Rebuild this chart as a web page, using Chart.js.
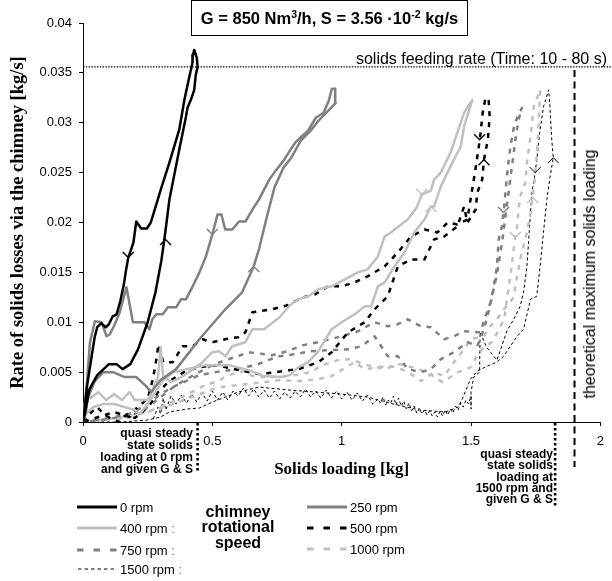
<!DOCTYPE html>
<html><head><meta charset="utf-8">
<script src="https://cdn.jsdelivr.net/npm/chart.js@4"></script>
<style>
body{margin:0;background:#fff;}
#wrap{position:relative;width:612px;height:581px;overflow:hidden;font-family:"Liberation Sans",Arial,sans-serif;color:#000;background:#fff;}
#c{position:absolute;left:0;top:0;}
.abs{position:absolute;white-space:nowrap;}
.lg{position:absolute;font-size:13px;line-height:13px;white-space:nowrap;}
.col{color:#777;}
.ann{position:absolute;font-weight:bold;font-size:12px;text-align:right;white-space:nowrap;}
sup{line-height:0;}
</style></head>
<body><div id="wrap">
<canvas id="c" width="612" height="581"></canvas>
<div class="abs" style="left:191px;top:0px;width:277px;height:36px;box-sizing:border-box;border:1px solid #000;"></div>
<div class="abs" style="left:191px;top:10px;width:277px;text-align:center;font-weight:bold;font-size:16.5px;line-height:16.5px;">G = 850 Nm<sup style="font-size:10.5px;vertical-align:6px;">3</sup>/h, S = 3.56 ·10<sup style="font-size:10.5px;vertical-align:6px;">-2</sup> kg/s</div>
<div class="abs" style="right:5px;top:51px;font-size:16px;line-height:16px;">solids feeding rate (Time: 10 - 80 s)</div>
<div class="abs" style="left:590px;top:274px;font-size:16px;line-height:16px;transform:translate(-50%,-50%) rotate(-90deg);">theoretical maximum solids loading</div>
<div class="ann" style="right:419px;top:427px;line-height:12px;">quasi steady<br>state solids<br>loading at 0 rpm<br>and given G &amp; S</div>
<div class="ann" style="right:59px;top:449px;line-height:11.3px;">quasi steady<br>state solids<br>loading at<br>1500 rpm and<br>given G &amp; S</div>

<svg class="abs" style="left:0;top:0" width="612" height="581">
<line x1="77" y1="507" x2="117" y2="507" stroke="#000" stroke-width="3"/>
<line x1="77" y1="528" x2="117" y2="528" stroke="#c0c0c0" stroke-width="3"/>
<line x1="77" y1="550" x2="117" y2="550" stroke="#808080" stroke-width="3" stroke-dasharray="6.5 10"/>
<line x1="78" y1="569" x2="117" y2="569" stroke="#000" stroke-width="1" stroke-dasharray="3.5 3"/>
<line x1="307" y1="507" x2="347" y2="507" stroke="#808080" stroke-width="3"/>
<line x1="307" y1="528" x2="347" y2="528" stroke="#000" stroke-width="3" stroke-dasharray="6.5 10"/>
<line x1="307" y1="549" x2="347" y2="549" stroke="#c0c0c0" stroke-width="3" stroke-dasharray="6.5 10"/>
</svg>
<div class="lg" style="left:120px;top:500.6px;">0 rpm</div>
<div class="lg" style="left:120px;top:521.6px;">400 rpm<span class="col"> :</span></div>
<div class="lg" style="left:120px;top:543.6px;">750 rpm<span class="col"> :</span></div>
<div class="lg" style="left:120px;top:562.6px;">1500 rpm<span class="col"> :</span></div>
<div class="lg" style="left:350px;top:500.6px;">250 rpm</div>
<div class="lg" style="left:350px;top:521.6px;">500 rpm</div>
<div class="lg" style="left:350px;top:542.6px;">1000 rpm</div>
<div class="abs" style="left:178px;top:503.5px;width:120px;text-align:center;font-weight:bold;font-size:16px;line-height:15.5px;">chimney<br>rotational<br>speed</div>
</div>
<script>
// ---- data (solids loading [kg], rate of solids losses [kg/s]) ----
const rpm0 = [[0,0],[0.008,0.001],[0.025,0.0033],[0.055,0.0047],[0.1,0.0058],[0.13,0.0058],[0.153,0.0053],[0.183,0.0058],[0.213,0.0073],[0.25,0.01],[0.28,0.013],[0.303,0.0162],[0.318,0.019],[0.334,0.0223],[0.353,0.0248],[0.372,0.0273],[0.398,0.0306],[0.404,0.0315],[0.417,0.0323],[0.43,0.0333],[0.436,0.0348],[0.443,0.0356],[0.44,0.0365],[0.43,0.0373],
 [0.425,0.0368],[0.423,0.036],[0.411,0.0346],[0.392,0.0323],[0.372,0.0293],[0.334,0.026],[0.303,0.0235],[0.289,0.0223],[0.262,0.02],[0.247,0.0194],[0.225,0.0194],[0.206,0.0201],[0.195,0.018],[0.185,0.0172],[0.175,0.0165],[0.165,0.015],[0.158,0.0138],[0.145,0.0122],[0.13,0.0108],[0.115,0.0106],[0.1,0.0098],[0.088,0.0095],[0.07,0.0099],[0.055,0.0095],[0.045,0.0085],[0.03,0.006],[0.015,0.0035],[0.005,0.001],[0,0]];
const rpm250 = [[0,0],[0.008,0.0006],[0.02,0.0025],[0.046,0.0041],[0.078,0.005],[0.116,0.005],[0.161,0.0045],[0.206,0.0045],[0.244,0.0036],[0.264,0.003],[0.3,0.0042],[0.36,0.0053],[0.45,0.0083],[0.55,0.0113],[0.615,0.013],[0.66,0.0156],[0.68,0.0173],[0.71,0.0205],[0.74,0.0235],[0.775,0.0255],[0.805,0.0265],[0.842,0.0282],[0.88,0.0292],[0.91,0.0302],[0.94,0.031],[0.977,0.032],[0.975,0.0334],
 [0.962,0.0334],[0.95,0.0322],[0.93,0.031],[0.9,0.0305],[0.87,0.0292],[0.84,0.0285],[0.82,0.028],[0.8,0.0272],[0.775,0.0262],[0.745,0.0252],[0.72,0.0243],[0.7,0.0233],[0.68,0.0223],[0.655,0.0213],[0.628,0.0201],[0.603,0.0201],[0.577,0.0193],[0.55,0.0193],[0.535,0.0208],[0.52,0.0208],[0.5,0.0188],[0.475,0.0166],[0.45,0.015],[0.424,0.0136],[0.398,0.0123],[0.379,0.0123],[0.36,0.0115],[0.328,0.0115],[0.308,0.0108],[0.283,0.0108],[0.268,0.0103],[0.257,0.0093],[0.238,0.01],[0.193,0.01],[0.168,0.0135],[0.142,0.011],[0.123,0.0098],[0.104,0.0088],[0.091,0.0086],[0.072,0.01],[0.046,0.0101],[0.027,0.008],[0.014,0.0036],[0.004,0.001],[0,0]];
const rpm400 = [[0,0],[0.01,0.0008],[0.04,0.0015],[0.08,0.0018],[0.12,0.0018],[0.16,0.0015],[0.2,0.0012],[0.22,0.0008],[0.25,0.0018],[0.28,0.003],[0.31,0.0042],[0.35,0.005],[0.4,0.0053],[0.475,0.0057],[0.565,0.0057],[0.64,0.0052],[0.7,0.0046],[0.76,0.0045],[0.8,0.0047],[0.833,0.0055],[0.871,0.006],[0.91,0.0071],[0.961,0.0093],[1.0,0.01],[1.05,0.0108],[1.09,0.0116],[1.114,0.0116],[1.14,0.0136],[1.166,0.014],[1.204,0.0156],[1.243,0.017],[1.28,0.019],[1.32,0.0203],[1.345,0.0216],[1.357,0.0216],[1.383,0.0236],[1.42,0.0256],[1.46,0.0276],[1.473,0.0296],[1.505,0.0323],
 [1.473,0.031],[1.447,0.029],[1.421,0.027],[1.383,0.025],[1.357,0.0243],[1.345,0.0232],[1.31,0.0228],[1.29,0.0215],[1.255,0.0203],[1.22,0.0196],[1.19,0.019],[1.166,0.0186],[1.14,0.0166],[1.1,0.0153],[1.063,0.015],[1.012,0.0143],[0.96,0.0136],[0.91,0.0133],[0.871,0.0126],[0.833,0.0123],[0.8,0.0117],[0.76,0.0105],[0.7,0.0093],[0.654,0.0093],[0.628,0.008],[0.577,0.0076],[0.551,0.0066],[0.526,0.0071],[0.5,0.007],[0.462,0.006],[0.42,0.0052],[0.38,0.0045],[0.34,0.004],[0.31,0.0045],[0.3,0.0075],[0.29,0.0045],[0.27,0.0032],[0.25,0.0022],[0.2,0.0022],[0.18,0.003],[0.15,0.0022],[0.12,0.0028],[0.09,0.0022],[0.06,0.003],[0.03,0.0024],[0.015,0.003],[0.005,0.0015],[0,0]];
const rpm500 = [[0,0],[0.025,0.0008],[0.055,0.0015],[0.08,0.0008],[0.11,0.0003],[0.14,0],[0.17,0.0008],[0.2,0.0004],[0.23,0.001],[0.26,0.0018],[0.29,0.003],[0.334,0.0041],[0.39,0.005],[0.45,0.0055],[0.52,0.0057],[0.6,0.0052],[0.68,0.0048],[0.75,0.005],[0.8,0.0052],[0.833,0.0053],[0.91,0.006],[0.961,0.007],[1.025,0.009],[1.089,0.01],[1.127,0.0113],[1.178,0.0126],[1.217,0.0156],[1.268,0.0163],[1.32,0.0163],[1.357,0.0183],[1.396,0.0186],[1.447,0.0196],[1.473,0.0216],[1.486,0.02],[1.518,0.0213],[1.524,0.023],[1.543,0.0243],[1.55,0.0263],[1.565,0.0283],[1.572,0.0306],[1.568,0.0323],[1.556,0.0325],
 [1.545,0.031],[1.537,0.029],[1.53,0.0276],[1.515,0.025],[1.498,0.0223],[1.486,0.0203],[1.447,0.0198],[1.41,0.02],[1.37,0.019],[1.32,0.0193],[1.268,0.0186],[1.217,0.017],[1.166,0.0156],[1.1,0.0146],[1.05,0.014],[1.0,0.0136],[0.948,0.0136],[0.897,0.0128],[0.85,0.0125],[0.79,0.0117],[0.73,0.0113],[0.655,0.011],[0.628,0.009],[0.6,0.0085],[0.55,0.0083],[0.5,0.008],[0.462,0.0083],[0.424,0.0076],[0.385,0.0076],[0.347,0.006],[0.31,0.006],[0.292,0.0078],[0.28,0.0057],[0.27,0.0043],[0.25,0.0023],[0.21,0.0015],[0.18,0.0005],[0.12,0.001],[0.06,0.0005],[0,0]];
const rpm750 = [[0,0],[0.1,0.0004],[0.18,0.0008],[0.25,0.0018],[0.3,0.0028],[0.347,0.0035],[0.398,0.0041],[0.45,0.0047],[0.513,0.005],[0.59,0.0053],[0.667,0.0057],[0.715,0.0062],[0.76,0.0066],[0.82,0.0068],[0.88,0.0071],[0.95,0.0072],[1.03,0.0073],[1.076,0.0076],[1.127,0.0086],[1.178,0.0066],[1.217,0.0066],[1.255,0.0053],[1.306,0.005],[1.345,0.0053],[1.383,0.0063],[1.434,0.007],[1.486,0.008],[1.524,0.0076],[1.55,0.0093],[1.575,0.0118],[1.6,0.0148],[1.62,0.018],[1.64,0.022],[1.66,0.026],[1.675,0.029],[1.69,0.031],[1.697,0.0315],
 [1.675,0.0303],[1.665,0.0295],[1.652,0.0276],[1.64,0.025],[1.633,0.023],[1.626,0.021],[1.619,0.0196],[1.607,0.0183],[1.6,0.0156],[1.588,0.0136],[1.575,0.012],[1.556,0.0106],[1.536,0.009],[1.524,0.009],[1.473,0.0091],[1.434,0.0086],[1.396,0.0083],[1.345,0.0095],[1.306,0.0096],[1.255,0.0103],[1.217,0.0098],[1.178,0.0096],[1.127,0.01],[1.063,0.0091],[1.0,0.0086],[0.91,0.008],[0.85,0.0077],[0.79,0.0071],[0.73,0.0067],[0.64,0.007],[0.6,0.0066],[0.55,0.0062],[0.5,0.0057],[0.45,0.005],[0.4,0.0043],[0.35,0.0035],[0.3,0.0025],[0.25,0.0015],[0.2,0.0008],[0.1,0.0003],[0,0]];
const rpm1000 = [[0,0],[0.15,0.0003],[0.25,0.001],[0.35,0.0018],[0.45,0.0028],[0.526,0.0035],[0.6,0.0037],[0.7,0.004],[0.76,0.0042],[0.833,0.0041],[0.91,0.0043],[0.961,0.0046],[1.05,0.006],[1.089,0.0053],[1.14,0.0055],[1.19,0.0056],[1.23,0.0053],[1.268,0.0048],[1.306,0.0041],[1.357,0.005],[1.396,0.0046],[1.434,0.006],[1.473,0.0073],[1.498,0.0083],[1.55,0.0086],[1.575,0.0096],[1.6,0.0103],[1.626,0.0113],[1.652,0.012],[1.665,0.0126],[1.678,0.0146],[1.69,0.0163],[1.716,0.019],[1.73,0.021],[1.745,0.024],[1.755,0.027],[1.762,0.03],[1.767,0.0333],
 [1.742,0.0316],[1.73,0.0286],[1.716,0.026],[1.71,0.024],[1.69,0.0226],[1.684,0.0213],[1.678,0.0196],[1.671,0.0185],[1.665,0.0173],[1.652,0.0146],[1.64,0.0126],[1.63,0.0105],[1.613,0.0095],[1.58,0.008],[1.55,0.0075],[1.52,0.0065],[1.5,0.0055],[1.45,0.005],[1.39,0.004],[1.33,0.005],[1.27,0.0055],[1.225,0.0058],[1.165,0.0053],[1.1,0.0057],[1.03,0.0063],[0.985,0.0062],[0.925,0.0057],[0.88,0.005],[0.82,0.0047],[0.76,0.0045],[0.7,0.0045],[0.654,0.0046],[0.628,0.0051],[0.6,0.005],[0.55,0.0046],[0.526,0.0041],[0.48,0.0038],[0.42,0.003],[0.36,0.0022],[0.3,0.0015],[0.2,0.0006],[0,0]];
const rpm1500 = [[0.05,0],[0.15,0],[0.25,0.0002],[0.3,0.0005],[0.334,0.001],[0.4,0.0013],[0.45,0.0014],[0.5,0.002],[0.55,0.0025],[0.6,0.003],[0.68,0.0035],[0.8,0.0032],[0.9,0.003],[1.0,0.0028],[1.1,0.0025],[1.2,0.0018],[1.3,0.0012],[1.4,0.001],[1.45,0.0015],[1.466,0.0023],[1.498,0.0043],[1.524,0.0051],[1.562,0.0056],[1.6,0.006],[1.626,0.0066],[1.652,0.0076],[1.678,0.0086],[1.703,0.0093],[1.73,0.0123],[1.754,0.0126],[1.767,0.0156],[1.78,0.019],[1.793,0.0223],[1.805,0.0245],[1.818,0.0265],[1.812,0.0283],[1.805,0.0316],[1.8,0.0333],
 [1.78,0.0316],[1.767,0.0293],[1.754,0.0263],[1.748,0.025],[1.735,0.023],[1.73,0.021],[1.723,0.0183],[1.716,0.0156],[1.703,0.013],[1.69,0.0116],[1.665,0.0103],[1.64,0.0092],[1.6,0.0062],[1.56,0.0075],[1.535,0.009],[1.533,0.005],[1.51,0.0045],[1.5,0.003],[1.5,0.0013],
 [1.5,0.0026],[1.49,0.0018],[1.48,0.0022],[1.47,0.0015],[1.46,0.0019],[1.45,0.0012],[1.44,0.0016],[1.43,0.0009],[1.42,0.0013],[1.41,0.0007],[1.4,0.0012],[1.39,0.0006],[1.38,0.0011],[1.37,0.0005],[1.36,0.001],[1.35,0.0006],[1.34,0.0011],[1.33,0.0007],[1.32,0.0012],[1.31,0.0008],[1.3,0.0014],[1.29,0.0009],[1.28,0.0016],[1.27,0.0011],[1.26,0.0019],[1.25,0.0013],[1.24,0.0021],[1.23,0.0016],[1.22,0.0024],[1.21,0.0017],[1.2,0.0026],[1.19,0.0019],[1.18,0.0022],[1.17,0.0017],[1.16,0.0025],[1.15,0.0019],[1.14,0.0023],[1.12,0.0018],[1.1,0.0027],[1.08,0.0021],[1.06,0.0029],[1.04,0.0022],[1.02,0.003],[1.0,0.0023],[0.98,0.0031],[0.96,0.0024],[0.94,0.0032],[0.92,0.0024],[0.9,0.0031],[0.88,0.0025],[0.86,0.0033],[0.84,0.0025],[0.82,0.0031],[0.8,0.0024],[0.78,0.003],[0.76,0.0023],[0.74,0.0031],[0.72,0.0024],[0.7,0.0032],[0.68,0.0025],[0.66,0.0033],[0.64,0.0026],[0.62,0.0034],[0.6,0.0026],[0.58,0.0031],[0.56,0.0022],[0.54,0.003],[0.52,0.0022],[0.5,0.0031],[0.48,0.0021],[0.46,0.0029],[0.44,0.002],[0.42,0.0028],[0.4,0.0019],[0.38,0.0027],[0.36,0.0018],[0.34,0.0026],[0.32,0.0012],[0.31,0.0024],[0.3,0.0008],[0.29,0.0015],[0.27,0.0002]];

const seriesNames = ['0 rpm','250 rpm','400 rpm','500 rpm','750 rpm','1000 rpm','1500 rpm'];
const seriesData = [rpm0, rpm250, rpm400, rpm500, rpm750, rpm1000, rpm1500];
const xTickLabels = ['0','0.5','1','1.5','2'];
const yTickLabels = ['0','0.005','0.01','0.015','0.02','0.025','0.03','0.035','0.04'];
const feedRate = 0.0356;          // solids feeding rate S [kg/s]
const quasiSteady0 = 0.443;       // quasi steady loading at 0 rpm [kg]
const quasiSteady1500 = 1.825;    // quasi steady loading at 1500 rpm [kg]
const theoreticalMax = 1.9;       // theoretical maximum solids loading [kg]
const theoreticalTop = 0.0353;
// direction arrows on the loops: series index, loading, rate, up(1)/down(0)
const arrowMarks = [[0,0.319,0.0183,1],[0,0.175,0.0165,0],[1,0.66,0.0156,1],[1,0.5,0.0188,0],[2,1.345,0.0216,1],[2,1.31,0.0228,0],[3,1.55,0.0263,1],[3,1.533,0.0283,0],[4,1.626,0.021,0],[5,1.671,0.0185,0],[5,1.738,0.0225,1],[6,1.748,0.025,0],[6,1.818,0.0265,1]];

const styles = [
 {color:'#000000', width:2.5, dash:[]},
 {color:'#808080', width:2.5, dash:[]},
 {color:'#c0c0c0', width:2.5, dash:[]},
 {color:'#000000', width:2.5, dash:[5,6]},
 {color:'#808080', width:2.5, dash:[5,6]},
 {color:'#c0c0c0', width:2.5, dash:[5,6]},
 {color:'#000000', width:1, dash:[3,2.5]}
];

Chart.defaults.font.family = "'Liberation Sans', Arial, sans-serif";
Chart.defaults.color = '#000';

const guides = {
  id: 'guides',
  beforeDatasetsDraw(chart) {
    const {ctx, chartArea: a, scales: {y}} = chart;
    ctx.save();
    ctx.strokeStyle = '#000';
    ctx.lineWidth = 1.3;
    ctx.setLineDash([1.4, 1.4]);
    const yf = y.getPixelForValue(feedRate);
    ctx.beginPath(); ctx.moveTo(a.left, yf); ctx.lineTo(chart.width, yf); ctx.stroke();
    ctx.restore();
  },
  afterDatasetsDraw(chart) {
    const {ctx, chartArea: a, scales: {x, y}} = chart;
    ctx.save();
    ctx.strokeStyle = '#000';
    ctx.lineWidth = 2.6;
    ctx.setLineDash([2.5, 2.5]);
    let px = x.getPixelForValue(quasiSteady0);
    ctx.beginPath(); ctx.moveTo(px, a.bottom + 1); ctx.lineTo(px, a.bottom + 51); ctx.stroke();
    px = x.getPixelForValue(quasiSteady1500);
    ctx.beginPath(); ctx.moveTo(px, a.bottom + 1); ctx.lineTo(px, a.bottom + 84); ctx.stroke();
    ctx.lineWidth = 2;
    ctx.setLineDash([7, 4.5]);
    px = x.getPixelForValue(theoreticalMax);
    ctx.beginPath(); ctx.moveTo(px, y.getPixelForValue(theoreticalTop)); ctx.lineTo(px, a.bottom + 45); ctx.stroke();
    ctx.setLineDash([]);
    arrowMarks.forEach(([s, vx, vy, up]) => {
      const st = styles[s];
      const cx = x.getPixelForValue(vx), cy = y.getPixelForValue(vy);
      const h = up ? 5.5 : -5.5;
      ctx.strokeStyle = st.color;
      ctx.lineWidth = s === 6 ? 1 : 1.4;
      ctx.beginPath();
      ctx.moveTo(cx - 5.5, cy + h);
      ctx.lineTo(cx, cy);
      ctx.lineTo(cx + 5.5, cy + h);
      ctx.stroke();
    });
    ctx.restore();
  }
};

new Chart(document.getElementById('c'), {
  type: 'scatter',
  data: {
    datasets: seriesData.map((pts, i) => ({
      label: seriesNames[i],
      data: pts.map(([vx, vy]) => ({x: vx, y: vy})),
      showLine: true,
      borderColor: styles[i].color,
      borderWidth: styles[i].width,
      borderDash: styles[i].dash,
      borderJoinStyle: 'round',
      pointRadius: 0,
      pointHoverRadius: 0,
      fill: false,
      tension: 0
    }))
  },
  options: {
    responsive: false,
    animation: false,
    events: [],
    layout: {padding: {left: 0, right: 8, top: 23, bottom: 0}},
    plugins: {legend: {display: false}, tooltip: {enabled: false}},
    scales: {
      x: {
        type: 'linear', min: 0, max: 2,
        ticks: {stepSize: 0.5, padding: 8, font: {size: 13}, color: '#000', callback: (v, i) => xTickLabels[i]},
        grid: {drawOnChartArea: false, drawTicks: true, tickLength: 4, color: '#000'},
        border: {display: true, color: '#000', width: 1},
        title: {display: true, text: 'Solids loading [kg]', color: '#000', font: {family: "'Liberation Serif', 'Times New Roman', serif", size: 17, weight: 'bold'}, padding: {top: 0, bottom: 101}},
        afterFit: (s) => { s.height = 159; }
      },
      y: {
        type: 'linear', min: 0, max: 0.04,
        ticks: {stepSize: 0.005, padding: 7, font: {size: 13}, color: '#000', callback: (v, i) => yTickLabels[i]},
        grid: {drawOnChartArea: false, drawTicks: true, tickLength: 4, color: '#000'},
        border: {display: true, color: '#000', width: 1},
        title: {display: true, text: 'Rate of solids losses via the chimney [kg/s]', color: '#000', font: {family: "'Liberation Serif', 'Times New Roman', serif", size: 18.5, weight: 'bold'}, padding: {top: 7, bottom: 0}},
        afterFit: (s) => { s.width = 83; }
      }
    }
  },
  plugins: [guides]
});
</script>
</body></html>
